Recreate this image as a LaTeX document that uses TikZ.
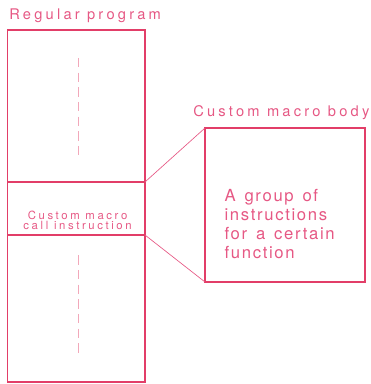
\documentclass[tikz,border=0pt]{standalone}
\usepackage{fontspec}
\setmainfont{TeX Gyre Heros}
\newfontfamily\titlefont[LetterSpace=22]{TeX Gyre Heros}
\newfontfamily\callfont[LetterSpace=23]{TeX Gyre Heros}
\newfontfamily\bodyfont[LetterSpace=10, WordSpace=1.4]{TeX Gyre Heros}
\usetikzlibrary{positioning}
\definecolor{progred}{RGB}{226,62,104}
\definecolor{progpink}{RGB}{230,88,132}
\definecolor{guidepink}{RGB}{242,168,186}

\begin{document}
\begin{tikzpicture}[
    x=0.75pt, y=-0.75pt,
    section/.style={rectangle, draw=progred, line width=1.3pt, minimum width=103.1pt, outer sep=0pt, inner sep=0pt},
    title/.style={text=progpink, font=\titlefont\fontsize{11pt}{13pt}\selectfont, inner sep=0pt, anchor=base west},
    calllabel/.style={text=progpink, font=\callfont\fontsize{8.5pt}{7.6pt}\selectfont, align=center, inner sep=0pt},
    bodytext/.style={text=progpink, font=\bodyfont\fontsize{12.5pt}{14.25pt}\selectfont, align=left, inner sep=0pt, anchor=north west},
    link/.style={draw=progpink, line width=0.5pt},
    guide/.style={draw=guidepink, line width=0.6pt, dash pattern=on 7pt off 4pt}
]
\useasboundingbox (0,0) rectangle (370,384);

% Regular program column
\node[section, minimum height=114pt] (progtop) at (76.25,106) {};
\node[section, minimum height=39.75pt, below=0pt of progtop] (call) {};
\node[section, minimum height=110.25pt, below=0pt of call] (progbot) {};
\node[calllabel] (calltext) at ([xshift=1pt, yshift=-9.2pt]call.center) {Custom macro\\call instruction};

% Macro body box
\node[section, minimum width=120pt, minimum height=115.5pt] (body) at (285,205) {};
\node[bodytext] (bodylines) at ([xshift=14.5pt, yshift=-45.5pt]body.north west) {A group of\\instructions\\for a certain\\function};

% Labels
\node[title] (progtitle) at ([xshift=1.1pt, yshift=7.5pt]progtop.north west) {Regular program};
\node[title] (bodytitle) at ([xshift=-9pt, yshift=8.25pt]body.north west) {Custom macro body};

% Connecting lines
\draw[link] (call.north east) -- (body.north west);
\draw[link] (call.south east) -- (body.south west);

% Program flow guides
\draw[guide] ([xshift=1.3pt, yshift=36pt]progtop.center) -- ([xshift=1.3pt, yshift=-39pt]progtop.center);
\draw[guide] ([xshift=1.3pt, yshift=40pt]progbot.center) -- ([xshift=1.3pt, yshift=-36.4pt]progbot.center);

\end{tikzpicture}
\end{document}
